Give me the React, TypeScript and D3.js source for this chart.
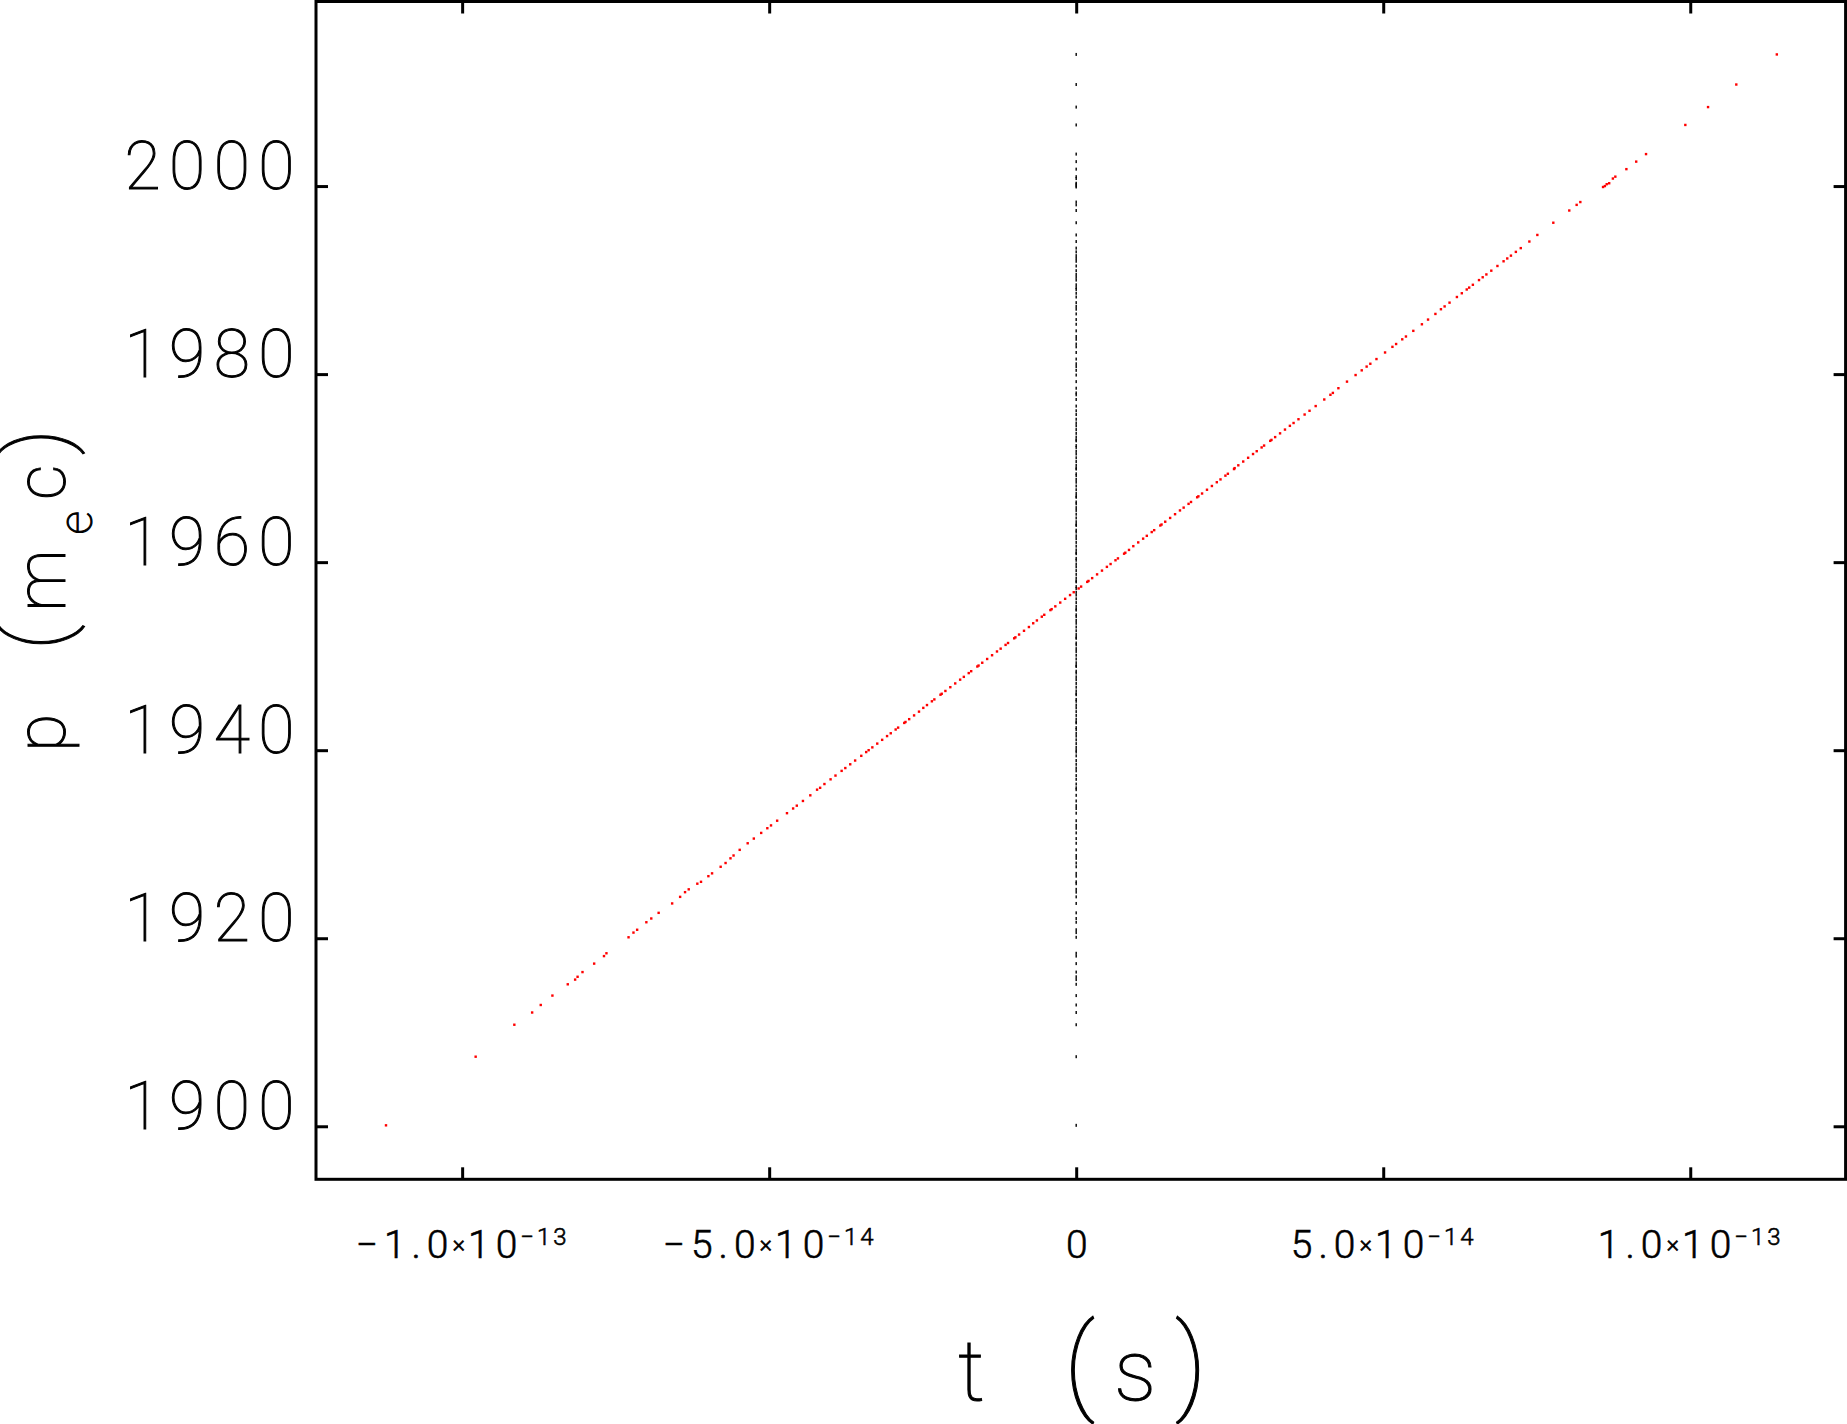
import { useEffect, useRef } from 'react'
import * as d3 from 'd3'

const WIDTH = 1847
const HEIGHT = 1424

// plot frame in page pixels
const FRAME = { left: 316, right: 1845.6, top: 1.5, bottom: 1179.3 }

// axis ranges: time in seconds, momentum in m_e c
const T_DOMAIN = [-1.238e-13, 1.253e-13]
const P_DOMAIN = [1894.36, 2019.63]

const T_TICKS = [-1e-13, -5e-14, 0, 5e-14, 1e-13]
const P_TICKS = [1900, 1920, 1940, 1960, 1980, 2000]

const FS = 1e-15
// black series: the same particles before the chirp, all at t = 0
const INITIAL_T = 0

const X_TITLE = ['t', '(', 's', ')']
const Y_TITLE = ['p', '(', 'm', 'e', 'c', ')']

// macroparticles after the chirp: [t (fs), p (m_e c)]
const particles: [number, number][] = [
  [-112.4, 1900.1], [-97.8, 1907.4], [-91.5, 1910.8], [-88.6, 1912.1], [-87.2, 1912.9],
  [-85.3, 1913.9], [-82.8, 1915.1], [-81.6, 1915.6], [-81.2, 1915.9], [-80.4, 1916.4],
  [-78.5, 1917.3], [-76.9, 1918.1], [-76.5, 1918.4], [-72.9, 1920.1], [-72.1, 1920.6],
  [-71.5, 1920.9], [-70.0, 1921.7], [-69.2, 1922.1], [-68.0, 1922.7], [-65.8, 1923.7],
  [-64.5, 1924.4], [-63.7, 1924.9], [-63.1, 1925.2], [-61.7, 1925.8], [-61.1, 1926.0],
  [-59.9, 1926.6], [-59.3, 1926.9], [-57.9, 1927.6], [-57.1, 1928.0], [-56.3, 1928.5],
  [-55.8, 1928.8], [-54.8, 1929.4],
  [-53.5, 1930.1], [-52.5, 1930.6], [-51.3, 1931.2], [-50.3, 1931.7], [-49.7, 1932.0],
  [-48.7, 1932.5], [-47.1, 1933.3], [-46.1, 1933.8], [-45.5, 1934.1], [-44.5, 1934.6],
  [-43.3, 1935.2], [-42.2, 1935.8], [-41.7, 1936.0], [-41.0, 1936.4], [-40.0, 1936.9],
  [-39.2, 1937.3], [-38.2, 1937.8], [-37.6, 1938.1], [-36.8, 1938.5], [-36.0, 1938.9],
  [-35.0, 1939.4], [-34.2, 1939.8],
  [-33.8, 1940.0], [-33.2, 1940.3], [-32.4, 1940.7], [-31.6, 1941.1], [-30.8, 1941.5],
  [-30.2, 1941.8], [-29.4, 1942.2], [-29.0, 1942.4], [-28.0, 1942.9], [-27.8, 1943.0],
  [-27.2, 1943.3], [-26.4, 1943.7], [-25.6, 1944.1], [-24.9, 1944.5], [-24.3, 1944.8],
  [-23.5, 1945.2], [-23.1, 1945.4], [-22.1, 1945.9], [-21.9, 1946.0], [-21.3, 1946.3],
  [-20.5, 1946.7], [-19.7, 1947.1], [-18.9, 1947.5], [-18.3, 1947.8], [-17.5, 1948.2],
  [-17.1, 1948.4], [-16.1, 1948.9], [-15.9, 1949.0], [-15.3, 1949.3], [-14.5, 1949.7],
  [-13.7, 1950.1], [-12.9, 1950.5], [-12.3, 1950.8], [-11.5, 1951.2], [-11.1, 1951.4],
  [-10.1, 1951.9], [-9.9, 1952.0], [-9.3, 1952.3], [-8.5, 1952.7], [-7.7, 1953.1],
  [-7.0, 1953.5], [-6.4, 1953.8], [-5.6, 1954.2], [-5.2, 1954.4], [-4.2, 1954.9],
  [-4.0, 1955.0], [-3.4, 1955.3], [-2.6, 1955.7], [-1.8, 1956.1], [-1.0, 1956.5],
  [-0.4, 1956.8], [0.4, 1957.2], [0.8, 1957.4], [1.8, 1957.9], [2.0, 1958.0],
  [2.6, 1958.3], [3.4, 1958.7], [4.2, 1959.1], [5.0, 1959.5], [5.6, 1959.8],
  [6.4, 1960.2], [6.8, 1960.4], [7.8, 1960.9], [8.0, 1961.0], [8.6, 1961.3],
  [9.3, 1961.7], [10.1, 1962.1], [10.9, 1962.5], [11.5, 1962.8], [12.3, 1963.2],
  [12.7, 1963.4], [13.7, 1963.9], [13.9, 1964.0], [14.5, 1964.3], [15.3, 1964.7],
  [16.1, 1965.1], [16.9, 1965.5], [17.5, 1965.8], [18.3, 1966.2], [18.7, 1966.4],
  [19.7, 1966.9], [19.9, 1967.0], [20.5, 1967.3], [21.3, 1967.7], [22.1, 1968.1],
  [22.9, 1968.5], [23.5, 1968.8], [24.3, 1969.2], [24.7, 1969.4], [25.7, 1969.9],
  [25.8, 1970.0], [26.4, 1970.3], [27.2, 1970.7], [28.0, 1971.1], [28.8, 1971.5],
  [29.4, 1971.8], [30.2, 1972.2], [30.6, 1972.4], [31.6, 1972.9], [31.8, 1973.0],
  [32.4, 1973.3], [33.2, 1973.7], [34.0, 1974.1], [34.8, 1974.5], [35.4, 1974.8],
  [36.2, 1975.2], [37.2, 1975.7], [38.0, 1976.1], [39.0, 1976.6], [40.4, 1977.3],
  [41.4, 1977.8], [41.8, 1978.0], [42.7, 1978.5], [44.1, 1979.2], [45.5, 1979.9],
  [46.5, 1980.4], [47.3, 1980.8], [47.9, 1981.1], [48.9, 1981.6], [50.3, 1982.3],
  [51.5, 1982.9], [52.1, 1983.2], [53.1, 1983.7], [53.7, 1984.0], [54.9, 1984.6],
  [56.3, 1985.3], [57.3, 1985.8], [58.5, 1986.4], [59.4, 1986.9], [60.0, 1987.2],
  [60.8, 1987.6],
  [62.0, 1988.2], [62.8, 1988.6], [63.6, 1989.0], [64.0, 1989.2], [64.6, 1989.5],
  [65.6, 1990.0], [66.2, 1990.3], [66.8, 1990.6], [67.6, 1991.0], [68.6, 1991.5],
  [69.6, 1992.0], [70.2, 1992.3], [70.8, 1992.6], [71.6, 1993.0], [72.4, 1993.4],
  [73.8, 1994.1], [75.1, 1994.8], [77.7, 1996.1], [80.3, 1997.4], [81.5, 1998.0],
  [82.1, 1998.3], [85.8, 1999.9], [86.1, 2000.0], [86.4, 2000.2], [86.8, 2000.3],
  [87.4, 2000.8], [87.8, 2001.0], [89.6, 2001.8], [91.2, 2002.6], [92.8, 2003.4],
  [99.2, 2006.5], [102.9, 2008.4], [107.5, 2010.8], [114.1, 2014.0],
]

function sciParts(v: number) {
  if (v === 0) return null
  const e = Math.floor(Math.log10(Math.abs(v)) + 1e-9)
  const m = v / Math.pow(10, e)
  return { mant: m.toFixed(1).replace('-', '\u2212'), exp: String(e).replace('-', '\u2212') }
}

export default function App() {
  const svgRef = useRef<SVGSVGElement | null>(null)

  useEffect(() => {
    if (!svgRef.current) return
    const svg = d3.select(svgRef.current)
    svg.selectAll('*').remove()

    const x = d3.scaleLinear().domain(T_DOMAIN).range([FRAME.left, FRAME.right])
    const y = d3.scaleLinear().domain(P_DOMAIN).range([FRAME.bottom, FRAME.top])

    svg.append('rect').attr('width', WIDTH).attr('height', HEIGHT).attr('fill', '#fff')

    // before chirp (black column at t = 0)
    svg.append('g').selectAll('rect')
      .data(particles)
      .join('rect')
      .attr('x', x(INITIAL_T) - 0.7)
      .attr('y', (d) => y(d[1]) - 1.5)
      .attr('width', 1.4)
      .attr('height', 3)
      .attr('fill', '#000')

    // after chirp (red)
    svg.append('g').selectAll('rect')
      .data(particles)
      .join('rect')
      .attr('x', (d) => x(d[0] * FS) - 1.2)
      .attr('y', (d) => y(d[1]) - 1.2)
      .attr('width', 2.4)
      .attr('height', 2.4)
      .attr('fill', '#ff0000')

    // frame
    svg.append('rect')
      .attr('x', FRAME.left)
      .attr('y', FRAME.top)
      .attr('width', FRAME.right - FRAME.left)
      .attr('height', FRAME.bottom - FRAME.top)
      .attr('fill', 'none')
      .attr('stroke', '#000')
      .attr('stroke-width', 3)

    const styleTicks = (g: any) => {
      g.select('.domain').remove()
      g.selectAll('.tick line').attr('stroke', '#000').attr('stroke-width', 3)
    }

    // bottom axis with sci labels
    const bottom = svg.append('g')
      .attr('transform', `translate(0,${FRAME.bottom})`)
      .call(d3.axisBottom(x).tickValues(T_TICKS).tickSize(-12).tickFormat(() => ''))
      .call(styleTicks)
      .attr('font-family', null)

    bottom.selectAll<SVGTextElement, number>('.tick text')
      .attr('y', 79)
      .attr('dy', 0)
      .attr('fill', '#000')
      .attr('stroke', '#000')
      .attr('stroke-width', 0.6)
      .attr('font-size', 39)
      .attr('font-weight', 300)
      .each(function (d) {
        const t = d3.select(this)
        const parts = sciParts(d)
        if (!parts) {
          t.text('0')
          return
        }
        t.append('tspan').attr('letter-spacing', 6).text(parts.mant)
        t.append('tspan').attr('font-size', 24).attr('dy', -6).attr('dx', -2).text('\u00d7')
        t.append('tspan').attr('dy', 6).attr('dx', 3).attr('letter-spacing', 6).text('10')
        t.append('tspan').attr('font-size', 24).attr('dy', -13).attr('dx', -3).attr('letter-spacing', 3).text(parts.exp)
      })

    svg.append('g')
      .attr('transform', `translate(0,${FRAME.top})`)
      .call(d3.axisTop(x).tickValues(T_TICKS).tickSize(-12).tickFormat(() => ''))
      .call(styleTicks)

    // left axis
    svg.append('g')
      .attr('transform', `translate(${FRAME.left},0)`)
      .call(d3.axisLeft(y).tickValues(P_TICKS).tickSize(-12).tickPadding(13).tickFormat(d3.format('d')))
      .call(styleTicks)
      .attr('font-family', null)
      .call((g) => g.selectAll('.tick text')
        .attr('dy', 2)
        .attr('fill', '#000')
        .attr('stroke', '#000')
        .attr('stroke-width', 1)
        .attr('font-size', 66)
        .attr('font-weight', 100)
        .attr('letter-spacing', 8.5))

    svg.append('g')
      .attr('transform', `translate(${FRAME.right},0)`)
      .call(d3.axisRight(y).tickValues(P_TICKS).tickSize(-12).tickFormat(() => ''))
      .call(styleTicks)

    // x title
    const xt = svg.append('text')
      .attr('y', 1400)
      .attr('font-size', 85)
      .attr('font-weight', 100)
      .attr('fill', '#000')
      .attr('stroke', '#000')
      .attr('stroke-width', 1)
    const xPos = [958, 1064, 1114, 1175]
    X_TITLE.forEach((s, i) => {
      const sp = xt.append('tspan').attr('x', xPos[i]).text(s)
      if (s === '(' || s === ')') sp.attr('font-size', 105)
    })

    // y title (rotated)
    const yt = svg.append('g')
      .attr('transform', 'translate(65,0) rotate(-90)')
      .append('text')
      .attr('font-size', 70)
      .attr('font-weight', 100)
      .attr('fill', '#000')
      .attr('stroke', '#000')
      .attr('stroke-width', 1)
    const yPos = [-752, -650, -612, -534.5, -500, -455]
    Y_TITLE.forEach((s, i) => {
      const sp = yt.append('tspan').attr('x', yPos[i]).attr('y', 0).text(s)
      if (s === '(' || s === ')') sp.attr('font-size', 86)
      if (i === 3) sp.attr('y', 27).attr('font-size', 47)
    })
  }, [])

  return (
    <svg
      ref={svgRef}
      width={WIDTH}
      height={HEIGHT}
      style={{ position: 'absolute', left: 0, top: 0, fontFamily: 'Roboto, "DejaVu Sans", sans-serif' }}
    />
  )
}
